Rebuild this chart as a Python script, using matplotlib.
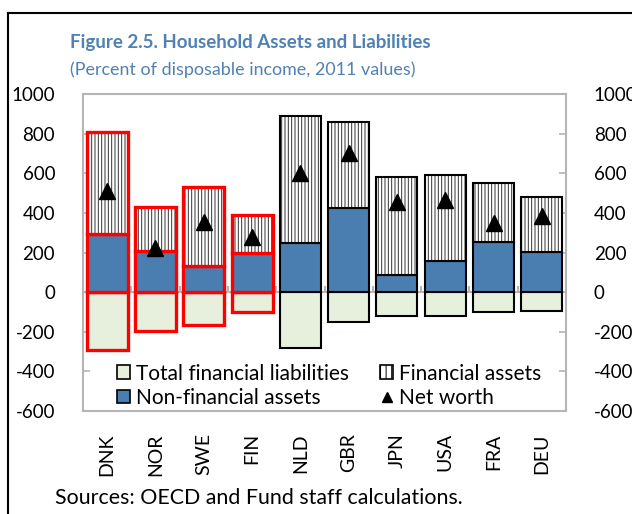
import numpy as np
import matplotlib
matplotlib.use('Agg')
import matplotlib.pyplot as plt
from matplotlib.patches import Patch
from matplotlib.lines import Line2D

# values (percent of disposable income, 2011)
countries = ['DNK', 'NOR', 'SWE', 'FIN', 'NLD', 'GBR', 'JPN', 'USA', 'FRA', 'DEU']
non_financial = [295, 210, 130, 195, 250, 425, 85, 155, 255, 205]
financial = [515, 220, 400, 195, 640, 435, 495, 435, 295, 275]
liabilities = [-290, -195, -165, -100, -280, -150, -120, -120, -100, -95]
net_worth = [510, 225, 355, 280, 600, 700, 455, 465, 350, 385]
nordic = ['DNK', 'NOR', 'SWE', 'FIN']

plt.rcParams['font.family'] = ['Lato', 'DejaVu Sans']
plt.rcParams['hatch.linewidth'] = 0.7
plt.rcParams['axes.unicode_minus'] = False

blue = '#4a7eb0'
pale = '#e6f0dc'
grey = '#b5b5b5'
title_col = '#4f81b4'

fig = plt.figure(figsize=(6.32, 5.14), dpi=100)
W, H = 632, 514
ax = fig.add_axes([83 / W, 1 - 411 / H, (566 - 83) / W, (411 - 94) / H])

x = np.arange(len(countries))
w = 0.85
edges = ['red' if c in nordic else 'black' for c in countries]
lws = [2.4 if c in nordic else 1.5 for c in countries]

ax.axhline(0, color=grey, lw=1.5, zorder=1)
ax.vlines(x[:-1] + 0.5, 0, 30, colors=grey, lw=1.5, zorder=1)

ax.bar(x, liabilities, w, color=pale, edgecolor=edges, linewidth=lws, zorder=2)
ax.bar(x, non_financial, w, color=blue, edgecolor=edges, linewidth=lws, zorder=2)
ax.bar(x, financial, w, bottom=non_financial, color='white', edgecolor='#333333',
       hatch='|||||', linewidth=0, zorder=2)
ax.bar(x, financial, w, bottom=non_financial, fill=False, edgecolor=edges,
       linewidth=lws, zorder=3)
ax.plot(x, net_worth, '^', color='black', ms=12, ls='none', zorder=4)

ax.set_xlim(-0.5, len(countries) - 0.5)
ax.set_ylim(-600, 1000)
ax.set_yticks(range(-600, 1001, 200))
ax.set_xticks(x, countries, rotation=90)
ax.tick_params(axis='y', direction='in', length=5, width=1.2, color=grey,
               labelsize=13.5, pad=20, left=True, right=True,
               labelleft=True, labelright=True)
ax.tick_params(axis='x', length=0, pad=16, labelsize=14)
for s in ax.spines.values():
    s.set_color(grey)
    s.set_linewidth(1.5)

handles = [
    Patch(facecolor=pale, edgecolor='black', linewidth=1.2, label='Total financial liabilities'),
    Patch(facecolor=blue, edgecolor='black', linewidth=1.2, label='Non-financial assets'),
    Patch(facecolor='white', edgecolor='black', linewidth=1.2, hatch='|||', label='Financial assets'),
    Line2D([], [], marker='^', ls='none', color='black', ms=7, label='Net worth'),
]
ax.legend(handles=handles, ncol=2, loc='lower left', bbox_to_anchor=(0.07, 0.01),
          frameon=False, fontsize=15, handlelength=0.65, handleheight=0.65,
          handletextpad=0.25, columnspacing=1.5, labelspacing=0.2,
          borderpad=0, borderaxespad=0)

fig.text(70 / W, 1 - 48 / H, 'Figure 2.5. Household Assets and Liabilities',
         fontsize=13.5, fontweight='bold', color=title_col, va='baseline')
fig.text(70 / W, 1 - 75 / H, '(Percent of disposable income, 2011 values)',
         fontsize=12.9, color=title_col, va='baseline')
fig.text(55 / W, 1 - 504 / H, 'Sources: OECD and Fund staff calculations.',
         fontsize=15.4, va='baseline')

fig.add_artist(Line2D([8 / W, 8 / W], [0, 1 - 13 / H], transform=fig.transFigure,
                      color='black', lw=1.5))
fig.add_artist(Line2D([8 / W, 1], [1 - 13 / H, 1 - 13 / H], transform=fig.transFigure,
                      color='black', lw=1.5))

fig.savefig('out.png', dpi=100)
